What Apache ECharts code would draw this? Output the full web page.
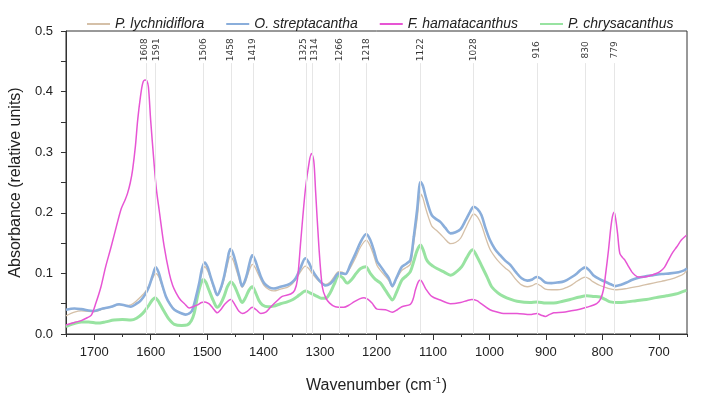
<!DOCTYPE html>
<html>
<head>
<meta charset="utf-8">
<script src="https://cdn.jsdelivr.net/npm/echarts@6/dist/echarts.min.js"></script>
<style>html,body{margin:0;padding:0;background:#fff;}#chart{width:709px;height:401px;}</style>
</head>
<body>
<div id="chart"></div>
<script>
const seriesNames = ['P. lychnidiflora', 'O. streptacantha', 'F. hamatacanthus', 'P. chrysacanthus'];
const peakWavenumbers = [1608, 1591, 1506, 1458, 1419, 1325, 1314, 1266, 1218, 1122, 1028, 916, 830, 779];
const xTickLabels = [1700, 1600, 1500, 1400, 1300, 1200, 1100, 1000, 900, 800, 700];

const lychnidiflora = [
[1750,0.030],[1735,0.036],[1723,0.038],[1700,0.037],[1685,0.041],[1670,0.045],[1656,0.048],[1645,0.047],[1635,0.048],[1625,0.055],[1617,0.062],[1610,0.069],[1603,0.080],[1596,0.093],[1591,0.100],[1586,0.095],[1582,0.085],[1573,0.062],[1565,0.049],[1558,0.041],[1548,0.035],[1538,0.032],[1530,0.034],[1526,0.040],[1520,0.058],[1514,0.082],[1509,0.102],[1504,0.111],[1499,0.104],[1494,0.092],[1488,0.076],[1482,0.064],[1476,0.073],[1470,0.090],[1464,0.114],[1459,0.128],[1454,0.122],[1449,0.108],[1443,0.090],[1438,0.077],[1433,0.084],[1429,0.095],[1424,0.108],[1420,0.115],[1415,0.110],[1411,0.102],[1405,0.090],[1399,0.080],[1390,0.073],[1382,0.071],[1370,0.074],[1358,0.077],[1350,0.082],[1343,0.090],[1335,0.102],[1326,0.112],[1320,0.108],[1314,0.100],[1306,0.091],[1299,0.085],[1290,0.082],[1282,0.086],[1276,0.093],[1267,0.103],[1261,0.102],[1255,0.099],[1246,0.110],[1237,0.126],[1228,0.144],[1218,0.155],[1211,0.145],[1205,0.130],[1199,0.113],[1193,0.105],[1184,0.095],[1178,0.088],[1172,0.078],[1165,0.090],[1155,0.105],[1147,0.110],[1140,0.115],[1134,0.150],[1128,0.190],[1122,0.231],[1118,0.225],[1113,0.208],[1107,0.190],[1102,0.178],[1095,0.172],[1087,0.165],[1078,0.156],[1069,0.149],[1060,0.151],[1051,0.158],[1042,0.175],[1034,0.190],[1028,0.198],[1021,0.193],[1014,0.180],[1007,0.160],[999,0.140],[990,0.127],[981,0.117],[972,0.109],[963,0.102],[953,0.090],[943,0.081],[933,0.078],[924,0.080],[917,0.083],[910,0.080],[901,0.074],[890,0.073],[880,0.073],[871,0.074],[863,0.077],[854,0.081],[845,0.087],[838,0.091],[830,0.094],[823,0.091],[816,0.086],[804,0.080],[792,0.076],[777,0.073],[757,0.075],[739,0.078],[725,0.081],[710,0.084],[695,0.087],[680,0.090],[665,0.095],[655,0.100],[650,0.106]
];

const streptacantha = [
[1750,0.040],[1735,0.042],[1723,0.041],[1700,0.038],[1685,0.042],[1670,0.045],[1656,0.049],[1645,0.047],[1635,0.045],[1625,0.050],[1617,0.056],[1610,0.065],[1603,0.078],[1596,0.098],[1591,0.110],[1586,0.102],[1582,0.089],[1573,0.062],[1565,0.048],[1558,0.040],[1548,0.035],[1538,0.032],[1530,0.035],[1526,0.040],[1520,0.060],[1514,0.084],[1509,0.108],[1504,0.118],[1499,0.110],[1494,0.095],[1488,0.078],[1482,0.064],[1476,0.075],[1470,0.095],[1464,0.122],[1459,0.140],[1454,0.133],[1449,0.117],[1443,0.095],[1438,0.079],[1433,0.088],[1429,0.100],[1424,0.120],[1420,0.130],[1415,0.122],[1411,0.111],[1405,0.095],[1399,0.084],[1390,0.077],[1382,0.075],[1370,0.078],[1358,0.081],[1350,0.085],[1343,0.092],[1335,0.108],[1326,0.125],[1320,0.118],[1314,0.106],[1306,0.094],[1299,0.086],[1290,0.080],[1282,0.083],[1276,0.089],[1267,0.100],[1261,0.100],[1255,0.099],[1246,0.115],[1237,0.133],[1228,0.152],[1218,0.165],[1211,0.155],[1205,0.139],[1199,0.120],[1193,0.112],[1184,0.100],[1178,0.092],[1172,0.079],[1165,0.092],[1155,0.111],[1147,0.116],[1140,0.122],[1134,0.160],[1128,0.205],[1122,0.251],[1118,0.245],[1113,0.227],[1107,0.208],[1102,0.196],[1095,0.190],[1087,0.185],[1078,0.175],[1069,0.166],[1060,0.168],[1051,0.173],[1042,0.188],[1034,0.202],[1028,0.210],[1021,0.206],[1014,0.196],[1007,0.175],[999,0.155],[990,0.140],[981,0.130],[972,0.121],[963,0.114],[953,0.102],[943,0.092],[933,0.088],[924,0.090],[917,0.094],[910,0.092],[901,0.085],[890,0.084],[880,0.085],[871,0.086],[863,0.089],[854,0.094],[845,0.100],[838,0.106],[830,0.110],[823,0.105],[816,0.097],[804,0.090],[792,0.085],[785,0.082],[777,0.079],[768,0.081],[757,0.085],[748,0.089],[739,0.092],[725,0.095],[710,0.097],[695,0.099],[680,0.100],[665,0.102],[655,0.105],[650,0.108]
];

const hamatacanthus = [
[1750,0.015],[1735,0.019],[1723,0.022],[1712,0.027],[1705,0.031],[1697,0.051],[1688,0.078],[1680,0.110],[1670,0.144],[1660,0.180],[1652,0.207],[1645,0.222],[1641,0.232],[1636,0.250],[1632,0.271],[1627,0.310],[1623,0.353],[1618,0.392],[1614,0.414],[1610,0.419],[1607,0.418],[1604,0.408],[1600,0.353],[1594,0.282],[1590,0.240],[1585,0.205],[1576,0.144],[1567,0.100],[1561,0.080],[1555,0.068],[1547,0.056],[1540,0.050],[1532,0.043],[1525,0.045],[1517,0.048],[1510,0.052],[1504,0.053],[1497,0.050],[1490,0.043],[1482,0.035],[1476,0.040],[1468,0.050],[1458,0.057],[1450,0.047],[1444,0.038],[1437,0.034],[1428,0.038],[1420,0.044],[1413,0.040],[1405,0.034],[1396,0.036],[1387,0.045],[1377,0.054],[1367,0.062],[1352,0.066],[1345,0.072],[1340,0.090],[1334,0.155],[1326,0.238],[1319,0.285],[1315,0.298],[1311,0.285],[1308,0.238],[1302,0.144],[1296,0.078],[1290,0.060],[1283,0.051],[1273,0.045],[1258,0.044],[1248,0.048],[1240,0.053],[1230,0.058],[1222,0.060],[1215,0.057],[1208,0.051],[1199,0.041],[1184,0.040],[1172,0.036],[1163,0.040],[1155,0.045],[1140,0.049],[1135,0.058],[1131,0.073],[1126,0.086],[1122,0.089],[1118,0.084],[1113,0.075],[1102,0.062],[1087,0.056],[1069,0.050],[1051,0.052],[1040,0.055],[1031,0.057],[1022,0.055],[1016,0.051],[999,0.040],[985,0.036],[975,0.034],[951,0.034],[928,0.032],[916,0.034],[908,0.031],[901,0.029],[894,0.032],[886,0.035],[870,0.036],[857,0.038],[840,0.041],[828,0.044],[810,0.050],[803,0.058],[798,0.073],[794,0.100],[789,0.139],[785,0.175],[782,0.194],[779,0.201],[776,0.188],[773,0.166],[769,0.133],[764,0.126],[760,0.122],[754,0.112],[748,0.103],[742,0.097],[736,0.094],[726,0.094],[716,0.096],[707,0.099],[698,0.103],[690,0.110],[683,0.122],[675,0.135],[668,0.144],[660,0.155],[651,0.163]
];

const chrysacanthus = [
[1750,0.012],[1740,0.016],[1723,0.020],[1710,0.020],[1694,0.018],[1680,0.020],[1665,0.023],[1650,0.024],[1635,0.023],[1625,0.026],[1614,0.034],[1605,0.045],[1597,0.056],[1592,0.060],[1587,0.055],[1582,0.047],[1576,0.037],[1568,0.025],[1558,0.016],[1545,0.014],[1535,0.015],[1528,0.022],[1523,0.034],[1517,0.062],[1512,0.080],[1507,0.090],[1502,0.085],[1497,0.073],[1489,0.055],[1482,0.044],[1476,0.050],[1470,0.062],[1464,0.078],[1458,0.086],[1452,0.080],[1445,0.065],[1438,0.052],[1432,0.060],[1426,0.072],[1420,0.078],[1414,0.068],[1408,0.055],[1402,0.048],[1392,0.045],[1382,0.046],[1370,0.050],[1358,0.053],[1348,0.057],[1340,0.062],[1333,0.067],[1326,0.071],[1318,0.068],[1305,0.062],[1298,0.059],[1290,0.059],[1282,0.068],[1275,0.082],[1267,0.096],[1260,0.093],[1252,0.084],[1244,0.090],[1236,0.100],[1228,0.108],[1219,0.111],[1211,0.100],[1202,0.090],[1193,0.084],[1184,0.072],[1177,0.062],[1172,0.056],[1164,0.070],[1155,0.089],[1147,0.096],[1140,0.103],[1134,0.120],[1128,0.138],[1122,0.147],[1117,0.138],[1112,0.124],[1107,0.117],[1100,0.112],[1093,0.108],[1080,0.102],[1069,0.097],[1058,0.103],[1049,0.111],[1040,0.126],[1030,0.139],[1022,0.128],[1013,0.111],[1004,0.094],[996,0.078],[985,0.068],[975,0.062],[962,0.057],[951,0.054],[928,0.052],[916,0.053],[900,0.051],[886,0.051],[870,0.054],[857,0.057],[840,0.061],[828,0.063],[815,0.062],[804,0.061],[795,0.057],[786,0.053],[772,0.052],[757,0.053],[740,0.055],[722,0.057],[705,0.060],[686,0.063],[670,0.066],[660,0.069],[651,0.072]
];

const chart = echarts.init(document.getElementById('chart'), null, {renderer: 'canvas'});
const FONT = 'Liberation Sans, Arial, sans-serif';
const axisCommon = {
  type: 'value', min: 650, max: 1750, inverse: true, interval: 50, position: 'bottom', offset: 0,
  axisLine: {show: true, onZero: false, lineStyle: {color: '#333', width: 1}},
  splitLine: {show: false}
};
// nudge pairs of close peak labels apart (screen px, positive = right)
const labelNudge = {1608: -1, 1591: 1, 1325: -2.5, 1314: 2.5};
const option = {
  animation: false,
  backgroundColor: '#fff',
  textStyle: {fontFamily: FONT},
  grid: {left: 65, right: 22, top: 31, bottom: 67, show: true, borderColor: '#333', borderWidth: 1, backgroundColor: 'transparent'},
  legend: {
    data: seriesNames.map(n => ({name: n, icon: 'rect'})),
    left: 82, top: 12,
    itemWidth: 23, itemHeight: 2, itemGap: 22,
    textStyle: {fontFamily: FONT, fontStyle: 'italic', fontSize: 14, color: '#222'}
  },
  xAxis: [
    Object.assign({}, axisCommon, {
      axisTick: {show: true, length: 3, inside: false, lineStyle: {color: '#333'}},
      axisLabel: {show: false}
    }),
    Object.assign({}, axisCommon, {
      axisTick: {show: true, length: 6, customValues: xTickLabels, lineStyle: {color: '#333'}},
      axisLabel: {show: true, customValues: xTickLabels, margin: 12, fontSize: 13, color: '#222', fontFamily: FONT, formatter: v => String(v)},
      name: '{a|Wavenumber (cm}{sup|-1}{a|)}',
      nameLocation: 'middle', nameGap: 42,
      nameTextStyle: {
        rich: {
          a: {fontSize: 16, color: '#222', fontFamily: FONT, lineHeight: 20},
          sup: {fontSize: 9, color: '#222', fontFamily: FONT, verticalAlign: 'top', lineHeight: 20, padding: [0, 1, 0, 1]}
        }
      }
    })
  ],
  yAxis: {
    type: 'value', min: 0, max: 0.5, interval: 0.1,
    axisLine: {show: true, onZero: false, lineStyle: {color: '#333', width: 1}},
    axisTick: {show: true, length: 5, lineStyle: {color: '#333'}},
    minorTick: {show: true, splitNumber: 2, length: 5, lineStyle: {color: '#333'}},
    splitLine: {show: false},
    axisLabel: {margin: 13, fontSize: 13, color: '#222', fontFamily: FONT, formatter: v => v.toFixed(1)},
    name: 'Absorbance (relative units)',
    nameLocation: 'middle', nameGap: 40,
    nameTextStyle: {fontSize: 16, color: '#222', fontFamily: FONT}
  },
  series: [
    {
      name: 'peaks', type: 'scatter', xAxisIndex: 0, symbolSize: 0, silent: true, z: 1,
      data: peakWavenumbers.map(w => ({
        value: [w, 0.469],
        label: {offset: [0, labelNudge[w] || 0]}
      })),
      label: {show: true, position: 'inside', rotate: 90, formatter: p => String(p.value[0]), fontSize: 9, color: '#000', fontFamily: 'DejaVu Sans'},
      markLine: {
        silent: true, symbol: 'none', animation: false,
        lineStyle: {color: '#e6e6e6', width: 1, type: 'solid'},
        label: {show: false},
        data: peakWavenumbers.map(w => [{coord: [w, 0]}, {coord: [w, 0.447]}])
      }
    },
    {
      name: seriesNames[0], type: 'line', xAxisIndex: 0, data: lychnidiflora, symbol: 'none', smooth: 0.3, z: 2,
      lineStyle: {color: '#d5c0a8', width: 1.3}, itemStyle: {color: '#d5c0a8'}
    },
    {
      name: seriesNames[1], type: 'line', xAxisIndex: 0, data: streptacantha, symbol: 'none', smooth: 0.3, z: 3,
      lineStyle: {color: '#8aaedb', width: 2.6}, itemStyle: {color: '#8aaedb'}
    },
    {
      name: seriesNames[2], type: 'line', xAxisIndex: 0, data: hamatacanthus, symbol: 'none', smooth: 0.3, z: 4,
      lineStyle: {color: '#e755d4', width: 1.5}, itemStyle: {color: '#e755d4'}
    },
    {
      name: seriesNames[3], type: 'line', xAxisIndex: 0, data: chrysacanthus, symbol: 'none', smooth: 0.3, z: 2,
      lineStyle: {color: '#98e3a1', width: 3}, itemStyle: {color: '#98e3a1'}
    }
  ]
};
chart.setOption(option);
</script>
</body>
</html>
